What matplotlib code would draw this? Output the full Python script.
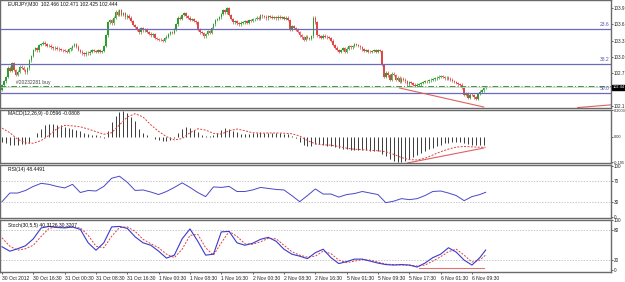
import numpy as np
import matplotlib
matplotlib.use("Agg")
import matplotlib.pyplot as plt
from matplotlib.transforms import blended_transform_factory

plt.rcParams['font.family'] = ['Liberation Sans', 'DejaVu Sans']

# M30 closes, one per bar
closes = [
    102.48, 102.55, 102.63, 102.80, 102.74, 102.89, 102.76, 102.67, 102.73, 102.82,
    102.80, 102.76, 102.72, 102.79, 102.94, 103.02, 103.13, 103.16, 103.12, 103.22,
    103.24, 103.26, 103.23, 103.20, 103.21, 103.18, 103.16, 103.17, 103.15, 103.14,
    103.13, 103.12, 103.11, 103.10, 103.14, 103.16, 103.20, 103.24, 103.19, 103.13,
    103.10, 103.07, 103.05, 103.08, 103.07, 103.10, 103.13, 103.11, 103.09, 103.12,
    103.10, 103.11, 103.20, 103.40, 103.64, 103.68, 103.62, 103.72, 103.83, 103.78,
    103.86, 103.77, 103.80, 103.73, 103.76, 103.72, 103.66, 103.59, 103.55, 103.50,
    103.45, 103.53, 103.49, 103.51, 103.46, 103.43, 103.40, 103.42, 103.35, 103.33,
    103.32, 103.31, 103.30, 103.35, 103.37, 103.42, 103.46, 103.44, 103.51, 103.60,
    103.72, 103.70, 103.77, 103.80, 103.75, 103.72, 103.68, 103.70, 103.66, 103.64,
    103.50, 103.45, 103.44, 103.38, 103.42, 103.47, 103.44, 103.53, 103.60, 103.68,
    103.70, 103.73, 103.79, 103.86, 103.82, 103.90, 103.77, 103.70, 103.64, 103.66,
    103.62, 103.60, 103.63, 103.64, 103.66, 103.63, 103.68, 103.66, 103.69, 103.70,
    103.72, 103.70, 103.77, 103.75, 103.74, 103.71, 103.75, 103.74, 103.72, 103.73,
    103.71, 103.74, 103.72, 103.73, 103.70, 103.72, 103.68, 103.50, 103.57, 103.53,
    103.50, 103.46, 103.40, 103.36, 103.31, 103.37, 103.35, 103.33, 103.38, 103.72,
    103.64, 103.40, 103.38, 103.35, 103.39, 103.37, 103.36, 103.35, 103.30, 103.22,
    103.17, 103.13, 103.10, 103.13, 103.16, 103.09, 103.15, 103.20, 103.18, 103.20,
    103.24, 103.22, 103.20, 103.18, 103.14, 103.11, 103.13, 103.10, 103.09, 103.11,
    103.13, 103.10, 103.12, 103.11, 102.85, 102.63, 102.71, 102.66, 102.58, 102.69,
    102.67, 102.58, 102.62, 102.54, 102.60, 102.58, 102.55, 102.50, 102.54, 102.52,
    102.49, 102.47, 102.49, 102.50, 102.52, 102.54, 102.56, 102.55, 102.57, 102.58,
    102.59, 102.61, 102.62, 102.64, 102.65, 102.63, 102.61, 102.62, 102.60, 102.58,
    102.56, 102.54, 102.52, 102.50, 102.49, 102.43, 102.30, 102.33, 102.25, 102.31,
    102.30, 102.26, 102.23, 102.32, 102.36, 102.39, 102.43, 102.444,
]
first_open = 102.40

tick_idx = list(range(0, 241, 16))
tick_lab = ['30 Oct 2012', '30 Oct 16:30', '31 Oct 00:30', '31 Oct 08:30', '31 Oct 16:30',
            '1 Nov 00:30', '1 Nov 08:30', '1 Nov 16:30', '2 Nov 00:30', '2 Nov 08:30',
            '2 Nov 16:30', '5 Nov 01:30', '5 Nov 09:30', '5 Nov 17:30', '6 Nov 01:30',
            '6 Nov 09:30']

# MACD main (histogram), every 2nd bar
macd_idx = list(range(0, 247, 2))
macd_main = [
    -0.040, -0.050, -0.060, -0.062, -0.060, -0.058, -0.055, -0.045, -0.005, 0.030,
    0.060, 0.085, 0.100, 0.098, 0.092, 0.085, 0.076, 0.068, 0.060, 0.052,
    0.040, 0.025, 0.018, 0.012, 0.010, 0.003, -0.010, 0.040, 0.110, 0.160,
    0.190, 0.195, 0.180, 0.150, 0.120, 0.060, 0.030, 0.012, 0.000, -0.015,
    -0.025, -0.030, -0.030, -0.022, -0.008, 0.030, 0.055, 0.070, 0.065, 0.050,
    0.035, 0.015, 0.002, 0.004, 0.010, 0.030, 0.050, 0.065, 0.060, 0.045,
    0.035, 0.022, 0.020, 0.022, 0.026, 0.030, 0.032, 0.030, 0.028, 0.026,
    0.025, 0.024, 0.022, 0.020, 0.008, -0.010, -0.040, -0.060, -0.070, -0.068,
    -0.055, -0.058, -0.062, -0.068, -0.072, -0.080, -0.088, -0.095, -0.098, -0.100,
    -0.102, -0.104, -0.103, -0.105, -0.108, -0.110, -0.112, -0.130, -0.150, -0.170,
    -0.185, -0.192, -0.195, -0.185, -0.172, -0.158, -0.142, -0.128, -0.112, -0.098,
    -0.085, -0.072, -0.060, -0.050, -0.045, -0.042, -0.040, -0.042, -0.050, -0.058,
    -0.062, -0.064, -0.062, -0.060,
]

# indicator lines, every 4th bar plus the last bar
line_idx = list(range(0, 245, 4)) + [247]
macd_signal = [
    0.065, 0.030, -0.020, -0.048, -0.050, -0.030, 0.010, 0.060, 0.085, 0.082,
    0.075, 0.058, 0.038, 0.018, 0.030, 0.090, 0.150, 0.175, 0.150, 0.090,
    0.040, 0.000, -0.025, -0.015, 0.030, 0.060, 0.050, 0.025, 0.020, 0.045,
    0.058, 0.045, 0.030, 0.026, 0.028, 0.028, 0.026, 0.022, 0.005, -0.030,
    -0.055, -0.062, -0.065, -0.075, -0.088, -0.096, -0.100, -0.104, -0.108, -0.115,
    -0.135, -0.160, -0.175, -0.178, -0.165, -0.140, -0.115, -0.095, -0.080, -0.075,
    -0.078, -0.081, -0.0808,
]
rsi_vals = [
    30, 47, 47, 52, 60, 66, 64, 60, 57, 64,
    48, 52, 51, 60, 76, 80, 68, 52, 53, 49,
    44, 50, 58, 67, 58, 48, 40, 59, 58, 60,
    50, 50, 53, 58, 56, 54, 53, 42, 30, 42,
    55, 45, 45, 39, 44, 46, 50, 47, 44, 28,
    31, 36, 34, 36, 42, 50, 51, 47, 42, 32,
    40, 44, 48.45,
]
stoch_main = [
    47, 38, 43, 49, 63, 85, 88, 86, 85, 87,
    82, 55, 40, 55, 87, 88, 84, 67, 55, 50,
    38, 24, 30, 63, 83, 58, 30, 32, 77, 78,
    55, 50, 54, 62, 66, 58, 42, 32, 28, 23,
    35, 42, 25, 13, 17, 22, 22, 18, 14, 11,
    10, 11, 10, 6, 14, 25, 32, 45, 36, 20,
    10, 25, 40.31,
]
stoch_signal = [
    65, 48, 40, 43, 50, 68, 84, 87, 86, 86,
    85, 70, 48, 45, 68, 86, 87, 78, 62, 53,
    45, 32, 25, 42, 70, 72, 45, 30, 55, 78,
    68, 53, 52, 57, 64, 63, 50, 37, 30, 26,
    28, 38, 33, 20, 15, 18, 21, 20, 16, 12,
    11, 10, 10, 8, 10, 18, 27, 37, 42, 30,
    16, 20, 30.32,
]

fib_levels = [103.51, 102.87, 102.34]
fib_labels = ['23.6', '38.2', '50.0']
buy_price = 102.466
bid = 102.444

# ---------------- figure ----------------
W, H = 625, 282
fig = plt.figure(figsize=(W / 100, H / 100), dpi=100)
fig.patch.set_facecolor('white')

def panel(top, bottom):
    return fig.add_axes([0, (H - bottom) / H, 611 / W, (bottom - top) / H])

ax = panel(0, 108)
ax_macd = panel(110, 163)
ax_rsi = panel(165, 218)
ax_st = panel(220, 272)

xlim = (-1.02, 311)
fs = 3.6
fs_r = 3.3
for a in (ax, ax_macd, ax_rsi, ax_st):
    a.set_xlim(*xlim)
    a.set_facecolor('white')
    for s in a.spines.values():
        s.set_color('#6a6a6a')
        s.set_linewidth(1.0)
    a.yaxis.tick_right()
    a.tick_params(axis='y', labelsize=fs_r, length=1.2, width=0.5, pad=0.6, colors='#222222')
    a.set_xticks([])

# candles
c = np.array(closes)
o = np.concatenate([[first_open], c[:-1]])
idx = np.arange(len(c))
hi = np.maximum(o, c) + 0.025
lo = np.minimum(o, c) - 0.025
up = c >= o
col = np.where(up, '#2e9e2e', '#e04848')
ax.vlines(idx, lo, hi, colors=col, linewidth=0.5)
body_h = np.maximum(np.abs(c - o), 0.006)
ax.bar(idx, body_h, bottom=np.minimum(o, c), width=0.8, color=col, linewidth=0)

ax.set_ylim(102.062, 104.047)
ax.set_yticks([102.1, 102.7, 103.0, 103.3, 103.6, 103.9])
ax.set_yticklabels(['102.1', '102.7', '103.0', '103.3', '103.6', '103.9'])

for lev, lab in zip(fib_levels, fib_labels):
    ax.axhline(lev, color='#6b6bbd', linewidth=0.9)
    ax.text(0.998, lev + 0.04, lab, transform=blended_transform_factory(ax.transAxes, ax.transData),
            ha='right', va='bottom', fontsize=fs, color='#5050b0')
ax.axhline(buy_price, color='#3a9a3a', linewidth=0.7, linestyle=(0, (6, 2, 1, 2)))
ax.axhline(bid, color='#c8c8c8', linewidth=0.5)
ax.text(7, buy_price + 0.02, '#20232281 buy', fontsize=fs, color='#444444', va='bottom', ha='left')
ax.text(1.003, bid, '102.44', transform=blended_transform_factory(ax.transAxes, ax.transData),
        fontsize=2.8, color='white', va='center', ha='left', clip_on=False,
        bbox=dict(boxstyle='square,pad=0.12', fc='black', ec='black'))
ax.text(3, 1 - 4 / 108, 'EURJPY,M30  102.466 102.471 102.425 102.444',
        transform=blended_transform_factory(ax.transData, ax.transAxes),
        fontsize=fs, va='center', ha='left', color='#111111')
# drawn trendlines
ax.plot([203, 246], [102.43, 102.08], color='#e06060', linewidth=0.8)
ax.plot([294, 311], [102.07, 102.12], color='#e06060', linewidth=0.8, clip_on=False)

# MACD
ax_macd.vlines(macd_idx, 0, macd_main, colors='#3a3a3a', linewidth=0.7)
ax_macd.plot(line_idx, macd_signal, color='#e04040', linewidth=0.7, linestyle=(0, (2, 1.5)))
ax_macd.plot([207, 246], [-0.201, -0.087], color='#e06060', linewidth=0.8)
ax_macd.set_ylim(-0.201, 0.203)
ax_macd.set_yticks([0.2003, 0.0, -0.195])
ax_macd.set_yticklabels(['0.2003', '0.00', '-0.195'])
ax_macd.tick_params(axis='y', labelsize=2.8)
ax_macd.text(3, 0.93, 'MACD(12,26,9) -0.0596 -0.0808',
             transform=blended_transform_factory(ax_macd.transData, ax_macd.transAxes),
             fontsize=fs, va='center', ha='left', color='#111111')

# RSI
for lev in (70, 30):
    ax_rsi.axhline(lev, color='#b0b0b0', linewidth=0.5, linestyle=(0, (2, 2)))
ax_rsi.plot(line_idx, rsi_vals, color='#4848c8', linewidth=0.7)
ax_rsi.set_ylim(-2, 102)
ax_rsi.set_yticks([100, 70, 30, 0])
ax_rsi.set_yticklabels(['100', '70', '30', '0'])
ax_rsi.text(3, 0.92, 'RSI(14) 48.4491',
            transform=blended_transform_factory(ax_rsi.transData, ax_rsi.transAxes),
            fontsize=fs, va='center', ha='left', color='#111111')

# Stochastic
for lev in (80, 20):
    ax_st.axhline(lev, color='#b0b0b0', linewidth=0.5, linestyle=(0, (2, 2)))
ax_st.plot(line_idx, stoch_signal, color='#e04040', linewidth=0.7, linestyle=(0, (2, 1.5)))
ax_st.plot(line_idx, stoch_main, color='#3a3acc', linewidth=0.8)
ax_st.plot([213, 246], [4, 4], color='#e87070', linewidth=0.8)
ax_st.set_ylim(-4, 101)
ax_st.set_yticks([100, 80, 20, 0])
ax_st.set_yticklabels(['100', '80', '20', '0'])
ax_st.text(3, 0.9, 'Stoch(30,5,5) 40.3126 30.3207',
           transform=blended_transform_factory(ax_st.transData, ax_st.transAxes),
           fontsize=fs, va='center', ha='left', color='#111111')

ax_st.set_xticks(tick_idx)
ax_st.set_xticklabels(tick_lab, ha='left')
ax_st.tick_params(axis='x', labelsize=fs, length=1.5, width=0.5, pad=1.5, colors='#222222')

fig.savefig('out.png', dpi=100, facecolor='white')
